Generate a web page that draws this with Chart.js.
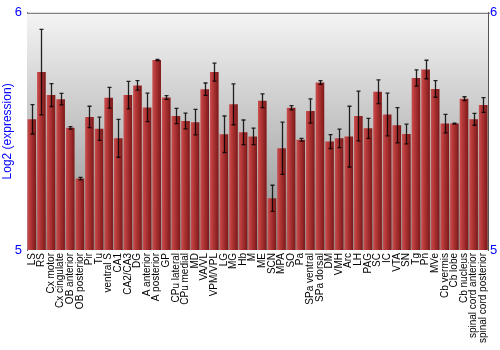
<!DOCTYPE html>
<html>
<head>
<meta charset="utf-8">
<script src="https://cdn.jsdelivr.net/npm/chart.js@4"></script>
<style>
  body { margin: 0; background: #fff; }
  #box { width: 500px; height: 350px; }
</style>
</head>
<body>
<div id="box"><canvas id="grafico"></canvas></div>
<script>
const regioes = ["LS", "RS", "Cx motor", "Cx cingulate", "OB anterior", "OB posterior", "Pir", "Tu",
  "ventral S", "CA1", "CA2/CA3", "DG", "A anterior", "A posterior", "GP", "CPu lateral", "CPu medial",
  "MD", "VA/VL", "VPM/VPL", "LG", "MG", "Hb", "M", "ME", "SCN", "MPA", "SO", "Pa", "SPa ventral",
  "SPa dorsal", "DM", "VMH", "Arc", "LH", "PAG", "SC", "IC", "VTA", "SN", "Tg", "Pn", "MVe",
  "Cb vermis", "Cb lobe", "Cb nucleus", "spinal cord anterior", "spinal cord posterior"];

const expressao = [5.551, 5.750, 5.653, 5.636, 5.515, 5.301, 5.561, 5.511,
  5.642, 5.471, 5.653, 5.694, 5.601, 5.801, 5.643, 5.565, 5.544,
  5.539, 5.678, 5.750, 5.488, 5.614, 5.496, 5.479, 5.629, 5.218, 5.429, 5.600, 5.465, 5.586,
  5.706, 5.457, 5.471, 5.478, 5.565, 5.513, 5.667, 5.571, 5.526, 5.489, 5.725, 5.761, 5.679,
  5.533, 5.533, 5.638, 5.551, 5.611];

const erro = [0.062, 0.180, 0.048, 0.024, 0.005, 0.005, 0.045, 0.049,
  0.044, 0.080, 0.058, 0.020, 0.060, 0.003, 0.008, 0.032, 0.033,
  0.054, 0.026, 0.038, 0.077, 0.086, 0.052, 0.035, 0.029, 0.055, 0.110, 0.009, 0.006, 0.051,
  0.008, 0.029, 0.039, 0.128, 0.105, 0.042, 0.050, 0.090, 0.074, 0.042, 0.034, 0.039, 0.035,
  0.039, 0.002, 0.008, 0.025, 0.031];

const ticksY = [5, 6];

const azul = '#0000ff';
const fonte = '"Liberation Sans", Arial, sans-serif';

var ctx = document.getElementById('grafico');

// gradiente horizontal de cada barra
function corBarra(context) {
  const chart = context.chart;
  const area = chart.chartArea;
  if (!area) return '#a02828';
  const largura = (area.right - area.left) / regioes.length * 0.9;
  const cx = chart.scales.x.getPixelForValue(context.dataIndex);
  const g = chart.ctx.createLinearGradient(cx - largura / 2, 0, cx + largura / 2, 0);
  g.addColorStop(0, '#c85252');
  g.addColorStop(0.25, '#bb3c3c');
  g.addColorStop(1, '#7c1818');
  return g;
}

let myChart = new Chart(ctx, {
  type: 'bar',
  data: {
    labels: regioes,
    datasets: [{
      label: 'Log2 (expression)',
      data: expressao,
      backgroundColor: corBarra,
      borderWidth: 0,
      barPercentage: 0.9,
      categoryPercentage: 1.0
    }]
  },
  options: {
    responsive: true,
    maintainAspectRatio: false,
    animation: false,
    layout: { padding: { top: 10, right: 0, left: 0, bottom: 0 } },
    plugins: {
      legend: { display: false },
      tooltip: { enabled: false }
    },
    scales: {
      x: {
        grid: { display: false, drawTicks: false },
        border: { display: false },
        ticks: {
          color: '#000',
          autoSkip: false,
          maxRotation: 90,
          minRotation: 90,
          padding: 3,
          font: { family: fonte, size: 10 }
        },
        afterFit(scale) { scale.height = 100; }
      },
      y: {
        position: 'left',
        min: 5,
        max: 6,
        afterBuildTicks(scale) { scale.ticks = ticksY.map(v => ({ value: v })); },
        grid: { display: false, drawTicks: false },
        border: { display: true, color: '#555', width: 1 },
        ticks: { color: azul, padding: 5, font: { family: fonte, size: 13 } },
        title: { display: true, text: 'Log2 (expression)', color: azul, padding: 0,
                 font: { family: fonte, size: 12 } },
        afterFit(scale) { scale.width = 27; }
      },
      y2: {
        position: 'right',
        min: 5,
        max: 6,
        afterBuildTicks(scale) { scale.ticks = ticksY.map(v => ({ value: v })); },
        grid: { display: false, drawTicks: false },
        border: { display: true, color: '#555', width: 1 },
        ticks: { color: azul, padding: 2, font: { family: fonte, size: 13 } },
        afterFit(scale) { scale.width = 12; }
      }
    }
  },
  plugins: [{
    id: 'fundo',
    beforeDatasetsDraw(chart) {
      const { ctx, chartArea } = chart;
      const g = ctx.createLinearGradient(0, chartArea.top, 0, chartArea.bottom);
      g.addColorStop(0, '#f4f4f4');
      g.addColorStop(1, '#8e8e8e');
      ctx.save();
      ctx.fillStyle = g;
      ctx.fillRect(chartArea.left, chartArea.top, chartArea.right - chartArea.left, chartArea.bottom - chartArea.top);
      // linha do topo e marquinha do 6
      ctx.strokeStyle = '#666';
      ctx.lineWidth = 1;
      ctx.beginPath();
      ctx.moveTo(chartArea.left, chartArea.top + 0.5);
      ctx.lineTo(chartArea.right + 2, chartArea.top + 0.5);
      ctx.stroke();
      ctx.restore();
    }
  }, {
    id: 'barrasErro',
    afterDatasetsDraw(chart) {
      const { ctx } = chart;
      const y = chart.scales.y;
      const meta = chart.getDatasetMeta(0);
      ctx.save();
      ctx.strokeStyle = 'rgba(0,0,0,0.85)';
      ctx.lineWidth = 1.3;
      meta.data.forEach((barra, i) => {
        const x = Math.round(barra.x) + 0.5;
        const yTopo = y.getPixelForValue(expressao[i] + erro[i]);
        const yBase = y.getPixelForValue(expressao[i] - erro[i]);
        ctx.beginPath();
        ctx.moveTo(x, yTopo);
        ctx.lineTo(x, yBase);
        ctx.moveTo(x - 2, yTopo);
        ctx.lineTo(x + 2, yTopo);
        ctx.moveTo(x - 2, yBase);
        ctx.lineTo(x + 2, yBase);
        ctx.stroke();
      });
      ctx.restore();
    }
  }]
});
</script>
</body>
</html>
